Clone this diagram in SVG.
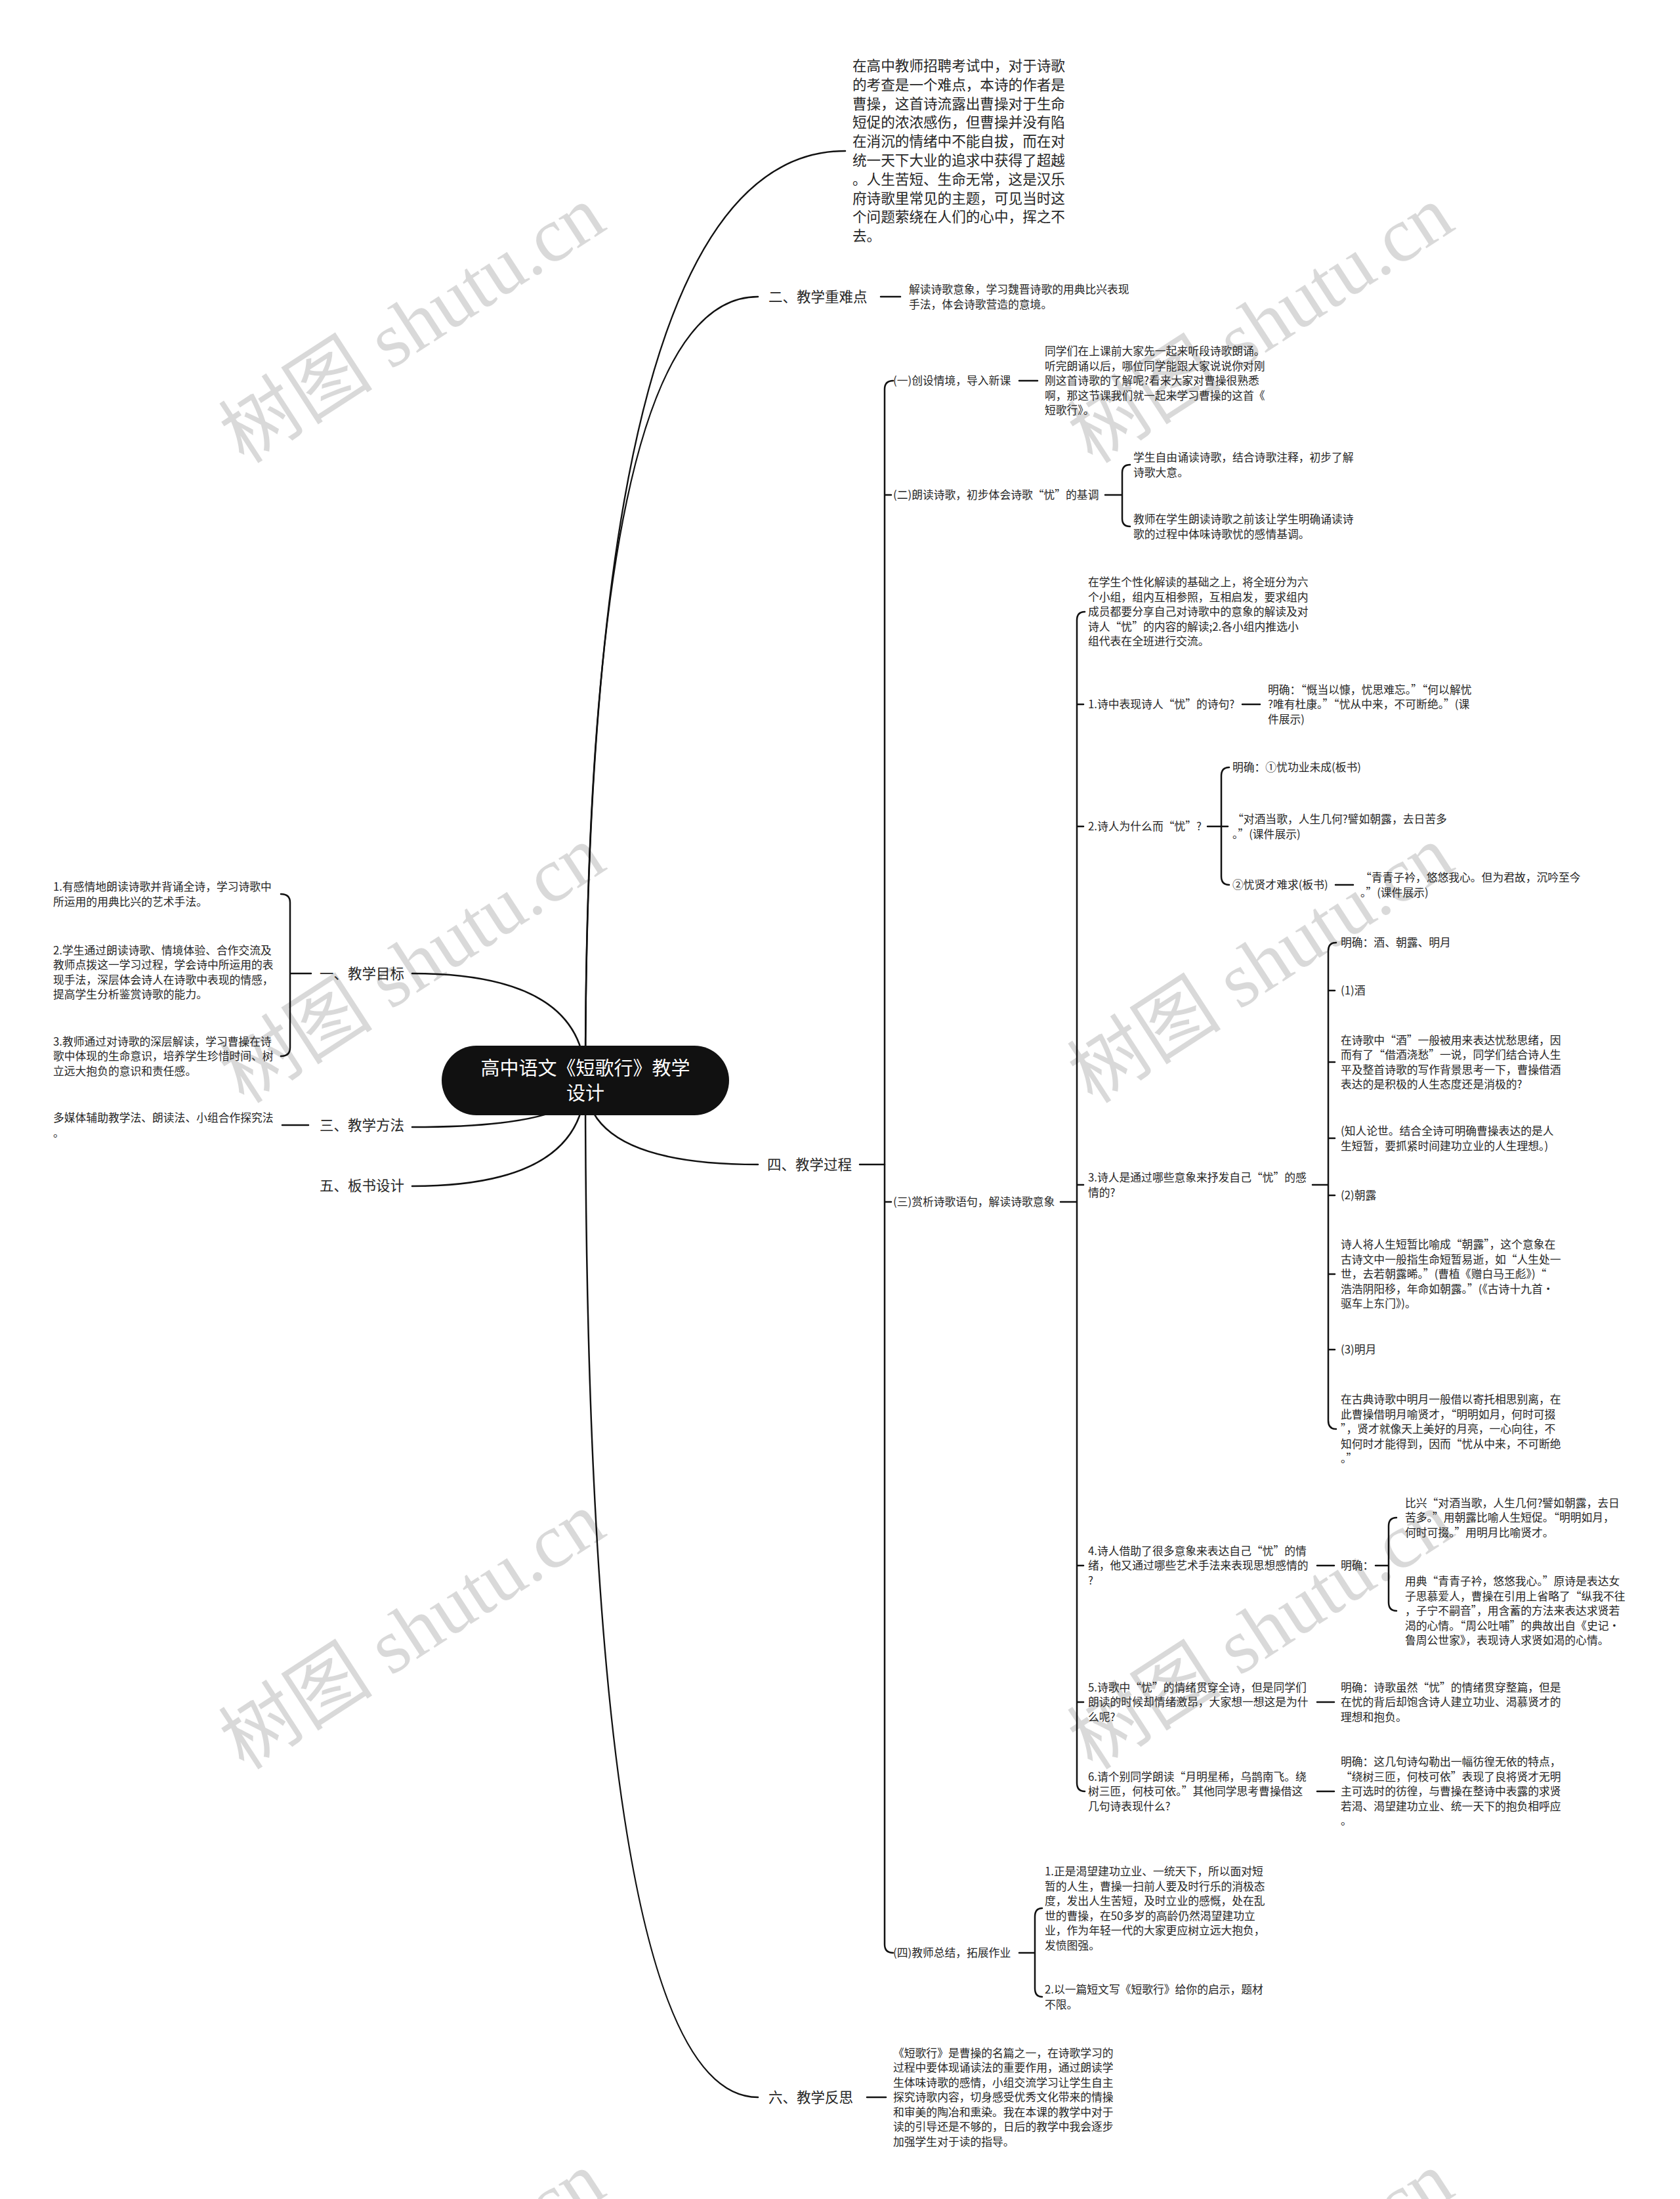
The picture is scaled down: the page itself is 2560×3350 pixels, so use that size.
<svg xmlns="http://www.w3.org/2000/svg" width="2560" height="3350" viewBox="0 0 2560 3350">
<style>
text{font-family:"Noto Sans CJK SC","Noto Sans",sans-serif;fill:#262626}
.lf{font-size:16.8px}
.mn{font-size:21.5px}
.tp{font-size:21.6px}
.ct{font-size:29px;fill:#fff;text-anchor:middle}
.ln{stroke:#111;stroke-width:2.5;fill:none;stroke-linecap:round}
.wm{font-family:"Liberation Serif","Noto Sans CJK SC",serif;font-size:118px;fill:#000;fill-opacity:0.15;text-anchor:middle}
</style>
<rect width="2560" height="3350" fill="#fff"/>
<g id="watermarks">
<text class="wm" x="650" y="528" transform="rotate(-33 650 528)">树图 shutu.cn</text>
<text class="wm" x="1943" y="528" transform="rotate(-33 1943 528)">树图 shutu.cn</text>
<text class="wm" x="650" y="1503" transform="rotate(-33 650 1503)">树图 shutu.cn</text>
<text class="wm" x="1943" y="1503" transform="rotate(-33 1943 1503)">树图 shutu.cn</text>
<text class="wm" x="650" y="2518" transform="rotate(-33 650 2518)">树图 shutu.cn</text>
<text class="wm" x="1943" y="2518" transform="rotate(-33 1943 2518)">树图 shutu.cn</text>
<text class="wm" x="650" y="3523" transform="rotate(-33 650 3523)">树图 shutu.cn</text>
<text class="wm" x="1943" y="3523" transform="rotate(-33 1943 3523)">树图 shutu.cn</text>
</g>
<g id="connectors">
<path class="ln" d="M892,1646 Q892,230 1288,230"/>
<path class="ln" d="M892,1646 Q892,452 1155,452"/>
<path class="ln" d="M892,1646 Q892,1774 1155,1774"/>
<path class="ln" d="M892,1646 Q892,3195 1155,3195"/>
<path class="ln" d="M892,1646 Q892,1483 628,1483"/>
<path class="ln" d="M892,1646 Q892,1717 628,1717"/>
<path class="ln" d="M892,1646 Q892,1807 628,1807"/>
<path class="ln" d="M1342,452 H1372"/>
<path class="ln" d="M1310,1774 H1348"/>
<path class="ln" d="M1361,580 Q1348,580 1348,593 V2962 Q1348,2975 1361,2975 M1348,754 H1358 M1348,1831 H1358"/>
<path class="ln" d="M1553,580 H1581"/>
<path class="ln" d="M1684,754 H1710 M1722,708 Q1710,708 1710,720 V790 Q1710,802 1722,802"/>
<path class="ln" d="M1616,1831 H1641 M1653,932 Q1641,932 1641,945 V2716 Q1641,2729 1653,2729 M1641,1073 H1651 M1641,1259 H1651 M1641,1805 H1651 M1641,2385 H1651 M1641,2593 H1651"/>
<path class="ln" d="M1893,1073 H1920"/>
<path class="ln" d="M1840,1259 H1861 M1873,1169 Q1861,1169 1861,1182 V1335 Q1861,1348 1873,1348 M1861,1259 H1871"/>
<path class="ln" d="M2035,1348 H2062"/>
<path class="ln" d="M2000,1805 H2024 M2036,1436 Q2024,1436 2024,1449 V2164 Q2024,2177 2036,2177 M2024,1509 H2034 M2024,1618 H2034 M2024,1734 H2034 M2024,1821 H2034 M2024,1941 H2034 M2024,2056 H2034"/>
<path class="ln" d="M2007,2385 H2033 M2096,2385 H2116 M2128,2312 Q2116,2312 2116,2325 V2441 Q2116,2454 2128,2454"/>
<path class="ln" d="M2007,2593 H2033"/>
<path class="ln" d="M2007,2729 H2033"/>
<path class="ln" d="M1553,2975 H1577 M1588,2907 Q1577,2907 1577,2920 V3029 Q1577,3042 1588,3042"/>
<path class="ln" d="M1321,3195 H1350"/>
<path class="ln" d="M444,1483 H474 M428,1362 Q442,1362 442,1375 V1596 Q442,1609 428,1609"/>
<path class="ln" d="M430,1714 H470"/>
</g>
<g id="center">
<rect x="673" y="1593" width="438" height="106" rx="53" fill="#111"/>
<text class="ct"><tspan x="892" y="1638">高中语文《短歌行》教学</tspan><tspan x="892" y="1676">设计</tspan></text>
</g>
<g id="intro">
<text class="tp"><tspan x="1299" y="108">在高中教师招聘考试中，对于诗歌</tspan><tspan x="1299" y="136.8">的考查是一个难点，本诗的作者是</tspan><tspan x="1299" y="165.6">曹操，这首诗流露出曹操对于生命</tspan><tspan x="1299" y="194.4">短促的浓浓感伤，但曹操并没有陷</tspan><tspan x="1299" y="223.2">在消沉的情绪中不能自拔，而在对</tspan><tspan x="1299" y="252">统一天下大业的追求中获得了超越</tspan><tspan x="1299" y="280.8">。人生苦短、生命无常，这是汉乐</tspan><tspan x="1299" y="309.6">府诗歌里常见的主题，可见当时这</tspan><tspan x="1299" y="338.4">个问题萦绕在人们的心中，挥之不</tspan><tspan x="1299" y="367.2">去。</tspan></text>
</g>
<g id="n2">
<text class="mn" x="1171" y="460">二、教学重难点</text>
<text class="lf"><tspan x="1385" y="447">解读诗歌意象，学习魏晋诗歌的用典比兴表现</tspan><tspan x="1385" y="469.5">手法，体会诗歌营造的意境。</tspan></text>
</g>
<g id="n4">
<text class="mn" x="1169" y="1782">四、教学过程</text>
</g>
<g id="n4-1">
<text class="lf" x="1361" y="586">(一)创设情境，导入新课</text>
<text class="lf"><tspan x="1592" y="541.2">同学们在上课前大家先一起来听段诗歌朗诵。</tspan><tspan x="1592" y="563.7">听完朗诵以后，哪位同学能跟大家说说你对刚</tspan><tspan x="1592" y="586.2">刚这首诗歌的了解呢?看来大家对曹操很熟悉</tspan><tspan x="1592" y="608.7">啊，那这节课我们就一起来学习曹操的这首《</tspan><tspan x="1592" y="631.2">短歌行》。</tspan></text>
</g>
<g id="n4-2">
<text class="lf" x="1361" y="760">(二)朗读诗歌，初步体会诗歌“忧”的基调</text>
<text class="lf"><tspan x="1727" y="703">学生自由诵读诗歌，结合诗歌注释，初步了解</tspan><tspan x="1727" y="725.5">诗歌大意。</tspan></text>
<text class="lf"><tspan x="1727" y="797">教师在学生朗读诗歌之前该让学生明确诵读诗</tspan><tspan x="1727" y="819.5">歌的过程中体味诗歌忧的感情基调。</tspan></text>
</g>
<g id="n4-3">
<text class="lf" x="1361" y="1837">(三)赏析诗歌语句，解读诗歌意象</text>
<text class="lf"><tspan x="1658" y="893.2">在学生个性化解读的基础之上，将全班分为六</tspan><tspan x="1658" y="915.7">个小组，组内互相参照，互相启发，要求组内</tspan><tspan x="1658" y="938.2">成员都要分享自己对诗歌中的意象的解读及对</tspan><tspan x="1658" y="960.7">诗人“忧”的内容的解读;2.各小组内推选小</tspan><tspan x="1658" y="983.2">组代表在全班进行交流。</tspan></text>
</g>
<g id="q1">
<text class="lf" x="1658" y="1079">1.诗中表现诗人“忧”的诗句?</text>
<text class="lf"><tspan x="1932" y="1056.7">明确：“慨当以慷，忧思难忘。”“何以解忧</tspan><tspan x="1932" y="1079.2">?唯有杜康。”“忧从中来，不可断绝。”(课</tspan><tspan x="1932" y="1101.7">件展示)</tspan></text>
</g>
<g id="q2">
<text class="lf" x="1658" y="1265">2.诗人为什么而“忧”?</text>
<text class="lf" x="1878" y="1175">明确：①忧功业未成(板书)</text>
<text class="lf"><tspan x="1878" y="1254">“对酒当歌，人生几何?譬如朝露，去日苦多</tspan><tspan x="1878" y="1276.5">。”(课件展示)</tspan></text>
<text class="lf" x="1878" y="1354">②忧贤才难求(板书)</text>
<text class="lf"><tspan x="2073" y="1343">“青青子衿，悠悠我心。但为君故，沉吟至今</tspan><tspan x="2073" y="1365.5">。”(课件展示)</tspan></text>
</g>
<g id="q3">
<text class="lf"><tspan x="1658" y="1800">3.诗人是通过哪些意象来抒发自己“忧”的感</tspan><tspan x="1658" y="1822.5">情的?</tspan></text>
<text class="lf" x="2043" y="1442">明确：酒、朝露、明月</text>
<text class="lf" x="2043" y="1515">(1)酒</text>
<text class="lf"><tspan x="2043" y="1590.5">在诗歌中“酒”一般被用来表达忧愁思绪，因</tspan><tspan x="2043" y="1613">而有了“借酒浇愁”一说，同学们结合诗人生</tspan><tspan x="2043" y="1635.5">平及整首诗歌的写作背景思考一下，曹操借酒</tspan><tspan x="2043" y="1658">表达的是积极的人生态度还是消极的?</tspan></text>
<text class="lf"><tspan x="2043" y="1729">(知人论世。结合全诗可明确曹操表达的是人</tspan><tspan x="2043" y="1751.5">生短暂，要抓紧时间建功立业的人生理想。)</tspan></text>
<text class="lf" x="2043" y="1827">(2)朝露</text>
<text class="lf"><tspan x="2043" y="1902.2">诗人将人生短暂比喻成“朝露”，这个意象在</tspan><tspan x="2043" y="1924.7">古诗文中一般指生命短暂易逝，如“人生处一</tspan><tspan x="2043" y="1947.2">世，去若朝露晞。”(曹植《赠白马王彪》)“</tspan><tspan x="2043" y="1969.7">浩浩阴阳移，年命如朝露。”(《古诗十九首·</tspan><tspan x="2043" y="1992.2">驱车上东门》)。</tspan></text>
<text class="lf" x="2043" y="2062">(3)明月</text>
<text class="lf"><tspan x="2043" y="2138.2">在古典诗歌中明月一般借以寄托相思别离，在</tspan><tspan x="2043" y="2160.7">此曹操借明月喻贤才，“明明如月，何时可掇</tspan><tspan x="2043" y="2183.2">”，贤才就像天上美好的月亮，一心向往，不</tspan><tspan x="2043" y="2205.7">知何时才能得到，因而“忧从中来，不可断绝</tspan><tspan x="2043" y="2228.2">。”</tspan></text>
</g>
<g id="q4">
<text class="lf"><tspan x="1658" y="2368.7">4.诗人借助了很多意象来表达自己“忧”的情</tspan><tspan x="1658" y="2391.2">绪，他又通过哪些艺术手法来表现思想感情的</tspan><tspan x="1658" y="2413.7">?</tspan></text>
<text class="lf" x="2043" y="2391">明确：</text>
<text class="lf"><tspan x="2141" y="2295.7">比兴“对酒当歌，人生几何?譬如朝露，去日</tspan><tspan x="2141" y="2318.2">苦多。”用朝露比喻人生短促。“明明如月，</tspan><tspan x="2141" y="2340.7">何时可掇。”用明月比喻贤才。</tspan></text>
<text class="lf"><tspan x="2141" y="2415.2">用典“青青子衿，悠悠我心。”原诗是表达女</tspan><tspan x="2141" y="2437.7">子思慕爱人，曹操在引用上省略了“纵我不往</tspan><tspan x="2141" y="2460.2">，子宁不嗣音”，用含蓄的方法来表达求贤若</tspan><tspan x="2141" y="2482.7">渴的心情。“周公吐哺”的典故出自《史记·</tspan><tspan x="2141" y="2505.2">鲁周公世家》，表现诗人求贤如渴的心情。</tspan></text>
</g>
<g id="q5">
<text class="lf"><tspan x="1658" y="2576.7">5.诗歌中“忧”的情绪贯穿全诗，但是同学们</tspan><tspan x="1658" y="2599.2">朗读的时候却情绪激昂，大家想一想这是为什</tspan><tspan x="1658" y="2621.7">么呢?</tspan></text>
<text class="lf"><tspan x="2043" y="2576.7">明确：诗歌虽然“忧”的情绪贯穿整篇，但是</tspan><tspan x="2043" y="2599.2">在忧的背后却饱含诗人建立功业、渴慕贤才的</tspan><tspan x="2043" y="2621.7">理想和抱负。</tspan></text>
</g>
<g id="q6">
<text class="lf"><tspan x="1658" y="2712.7">6.请个别同学朗读“月明星稀，乌鹊南飞。绕</tspan><tspan x="1658" y="2735.2">树三匝，何枝可依。”其他同学思考曹操借这</tspan><tspan x="1658" y="2757.7">几句诗表现什么?</tspan></text>
<text class="lf"><tspan x="2043" y="2690.2">明确：这几句诗勾勒出一幅彷徨无依的特点，</tspan><tspan x="2043" y="2712.7">“绕树三匝，何枝可依”表现了良将贤才无明</tspan><tspan x="2043" y="2735.2">主可选时的彷徨，与曹操在整诗中表露的求贤</tspan><tspan x="2043" y="2757.7">若渴、渴望建功立业、统一天下的抱负相呼应</tspan><tspan x="2043" y="2780.2">。</tspan></text>
</g>
<g id="n4-4">
<text class="lf" x="1361" y="2981">(四)教师总结，拓展作业</text>
<text class="lf"><tspan x="1592" y="2857">1.正是渴望建功立业、一统天下，所以面对短</tspan><tspan x="1592" y="2879.5">暂的人生，曹操一扫前人要及时行乐的消极态</tspan><tspan x="1592" y="2902">度，发出人生苦短，及时立业的感慨，处在乱</tspan><tspan x="1592" y="2924.5">世的曹操，在50多岁的高龄仍然渴望建功立</tspan><tspan x="1592" y="2947">业，作为年轻一代的大家更应树立远大抱负，</tspan><tspan x="1592" y="2969.5">发愤图强。</tspan></text>
<text class="lf"><tspan x="1592" y="3037">2.以一篇短文写《短歌行》给你的启示，题材</tspan><tspan x="1592" y="3059.5">不限。</tspan></text>
</g>
<g id="n6">
<text class="mn" x="1171" y="3203">六、教学反思</text>
<text class="lf"><tspan x="1361" y="3133.7">《短歌行》是曹操的名篇之一，在诗歌学习的</tspan><tspan x="1361" y="3156.2">过程中要体现诵读法的重要作用，通过朗读学</tspan><tspan x="1361" y="3178.7">生体味诗歌的感情，小组交流学习让学生自主</tspan><tspan x="1361" y="3201.2">探究诗歌内容，切身感受优秀文化带来的情操</tspan><tspan x="1361" y="3223.7">和审美的陶冶和熏染。我在本课的教学中对于</tspan><tspan x="1361" y="3246.2">读的引导还是不够的，日后的教学中我会逐步</tspan><tspan x="1361" y="3268.7">加强学生对于读的指导。</tspan></text>
</g>
<g id="n1">
<text class="mn" x="487" y="1491">一、教学目标</text>
<text class="lf"><tspan x="81" y="1357">1.有感情地朗读诗歌并背诵全诗，学习诗歌中</tspan><tspan x="81" y="1379.5">所运用的用典比兴的艺术手法。</tspan></text>
<text class="lf"><tspan x="81" y="1453.5">2.学生通过朗读诗歌、情境体验、合作交流及</tspan><tspan x="81" y="1476">教师点拨这一学习过程，学会诗中所运用的表</tspan><tspan x="81" y="1498.5">现手法，深层体会诗人在诗歌中表现的情感，</tspan><tspan x="81" y="1521">提高学生分析鉴赏诗歌的能力。</tspan></text>
<text class="lf"><tspan x="81" y="1592.7">3.教师通过对诗歌的深层解读，学习曹操在诗</tspan><tspan x="81" y="1615.2">歌中体现的生命意识，培养学生珍惜时间、树</tspan><tspan x="81" y="1637.7">立远大抱负的意识和责任感。</tspan></text>
</g>
<g id="n3">
<text class="mn" x="487" y="1722">三、教学方法</text>
<text class="lf"><tspan x="81" y="1709">多媒体辅助教学法、朗读法、小组合作探究法</tspan><tspan x="81" y="1731.5">。</tspan></text>
</g>
<g id="n5">
<text class="mn" x="487" y="1814">五、板书设计</text>
</g>
</svg>
